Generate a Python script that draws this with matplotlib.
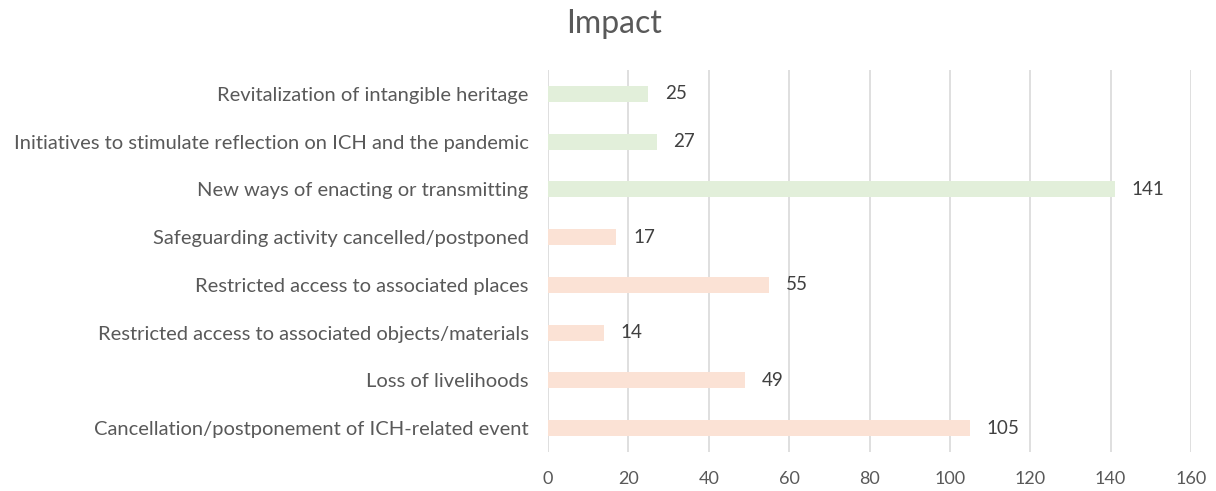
import matplotlib
matplotlib.use("Agg")
import matplotlib.pyplot as plt

categories = [
    "Cancellation/postponement of ICH-related event",
    "Loss of livelihoods",
    "Restricted access to associated objects/materials",
    "Restricted access to associated places",
    "Safeguarding activity cancelled/postponed",
    "New ways of enacting or transmitting",
    "Initiatives to stimulate reflection on ICH and the pandemic",
    "Revitalization of intangible heritage",
]
values = [105, 49, 14, 55, 17, 141, 27, 25]
groups = ["neg", "neg", "neg", "neg", "neg", "pos", "pos", "pos"]
xticks = [0, 20, 40, 60, 80, 100, 120, 140, 160]
title = "Impact"

colors = {"neg": "#fbe2d5", "pos": "#e2efda"}
text_color = "#595959"
plt.rcParams['font.family'] = ['Lato', 'DejaVu Sans']

fig = plt.figure(figsize=(12.16, 4.91), dpi=100)
ax = fig.add_axes([548/1216, 1 - 452/491, (1191-548)/1216, (452-70)/491])

ypos = list(range(len(categories)))
ax.barh(ypos, values, height=0.34, color=[colors[g] for g in groups], zorder=2)
for y, v in zip(ypos, values):
    ax.annotate(str(v), (v, y), xytext=(12, 0), textcoords="offset points",
                va="center", ha="left", fontsize=13.5, color="#404040")

ax.set_xlim(0, 160)
ax.set_ylim(-0.5, len(categories) - 0.5)
ax.set_xticks(xticks)
ax.set_xticklabels([str(t) for t in xticks], fontsize=13, color=text_color)
ax.set_yticks(ypos)
ax.set_yticklabels(categories, fontsize=14.5, color=text_color)
ax.tick_params(axis="x", length=0, pad=14)
ax.tick_params(axis="y", length=0, pad=14)
ax.grid(axis="x", color="#d9d9d9", linewidth=1.2, zorder=0)
for s in ax.spines.values():
    s.set_visible(False)

fig.text(614/1216, 1 - 24/491, title, ha="center", va="center", fontsize=23, color=text_color)

fig.savefig("out.png", dpi=100)
